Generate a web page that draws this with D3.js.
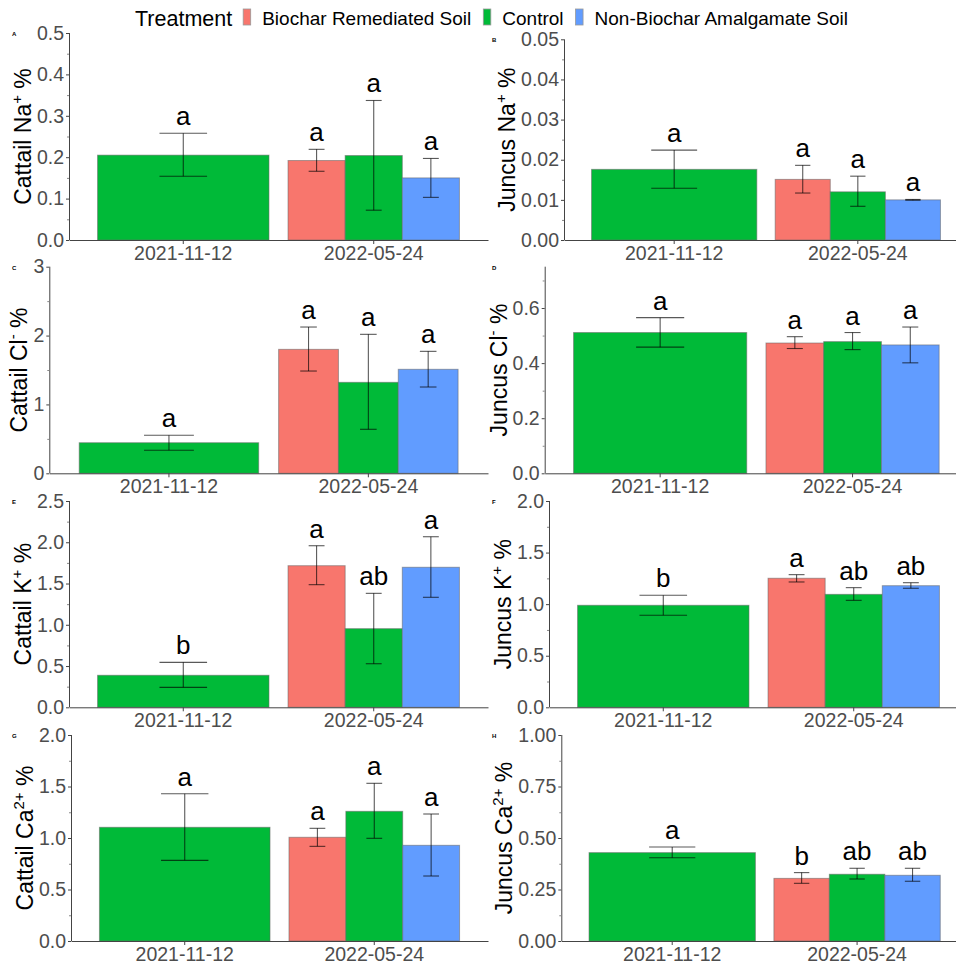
<!DOCTYPE html>
<html>
<head>
<meta charset="utf-8">
<script src="https://cdn.jsdelivr.net/npm/d3@7"></script>
<style>
  body { margin: 0; background: #fff; }
  svg { display: block; font-family: "Liberation Sans", Arial, sans-serif; }
</style>
</head>
<body>
<div id="chart"></div>
<script>
// Categories
const dates = ["2021-11-12", "2022-05-24"];
const treatments = ["Biochar Remediated Soil", "Control", "Non-Biochar Amalgamate Soil"];
const colors = ["#F8766D", "#00BA38", "#619CFF"];

// Bar order in every panel: 2021 Control, 2022 Biochar, 2022 Control, 2022 Non-Biochar
const barDate = [dates[0], dates[1], dates[1], dates[1]];
const barTreatment = [treatments[1], treatments[0], treatments[1], treatments[2]];

// Na+
const cattailNa = [0.205, 0.192, 0.204, 0.150];
const cattailNaLo = [0.154, 0.166, 0.072, 0.103];
const cattailNaHi = [0.258, 0.219, 0.337, 0.197];
const cattailNaLetters = ["a", "a", "a", "a"];
const cattailNaTicks = [0, 0.1, 0.2, 0.3, 0.4, 0.5];

const juncusNa = [0.0176, 0.0151, 0.0120, 0.0100];
const juncusNaLo = [0.0129, 0.0117, 0.0084, 0.0099];
const juncusNaHi = [0.0224, 0.0186, 0.0159, 0.0101];
const juncusNaLetters = ["a", "a", "a", "a"];
const juncusNaTicks = [0, 0.01, 0.02, 0.03, 0.04, 0.05];

// Cl-
const cattailCl = [0.444, 1.80, 1.321, 1.510];
const cattailClLo = [0.334, 1.485, 0.639, 1.253];
const cattailClHi = [0.552, 2.124, 2.018, 1.771];
const cattailClLetters = ["a", "a", "a", "a"];
const cattailClTicks = [0, 1, 2, 3];

const juncusCl = [0.511, 0.473, 0.478, 0.466];
const juncusClLo = [0.458, 0.453, 0.449, 0.401];
const juncusClHi = [0.565, 0.496, 0.511, 0.531];
const juncusClLetters = ["a", "a", "a", "a"];
const juncusClTicks = [0, 0.2, 0.4, 0.6];

// K+
const cattailK = [0.388, 1.716, 0.953, 1.697];
const cattailKLo = [0.242, 1.486, 0.528, 1.333];
const cattailKHi = [0.545, 1.958, 1.381, 2.067];
const cattailKLetters = ["b", "a", "ab", "a"];
const cattailKTicks = [0, 0.5, 1.0, 1.5, 2.0, 2.5];

const juncusK = [0.989, 1.251, 1.095, 1.179];
const juncusKLo = [0.892, 1.215, 1.037, 1.154];
const juncusKHi = [1.086, 1.286, 1.160, 1.208];
const juncusKLetters = ["b", "a", "ab", "ab"];
const juncusKTicks = [0, 0.5, 1.0, 1.5, 2.0];

// Ca2+
const cattailCa = [1.104, 1.007, 1.259, 0.929];
const cattailCaLo = [0.783, 0.919, 0.997, 0.631];
const cattailCaHi = [1.430, 1.094, 1.531, 1.233];
const cattailCaLetters = ["a", "a", "a", "a"];
const cattailCaTicks = [0, 0.5, 1.0, 1.5, 2.0];

const juncusCa = [0.429, 0.304, 0.324, 0.319];
const juncusCaLo = [0.404, 0.280, 0.301, 0.290];
const juncusCaHi = [0.456, 0.332, 0.353, 0.353];
const juncusCaLetters = ["a", "b", "ab", "ab"];
const juncusCaTicks = [0, 0.25, 0.5, 0.75, 1.0];

// panel layout
const panels = [
  {tag: "A", plant: "Cattail", ion: "Na", sup: "+", mean: cattailNa, lo: cattailNaLo, hi: cattailNaHi, letters: cattailNaLetters, ticks: cattailNaTicks, max: 0.5, fmt: ".1f", ax: 69, right: 488, top: 33, bottom: 240},
  {tag: "B", plant: "Juncus", ion: "Na", sup: "+", mean: juncusNa, lo: juncusNaLo, hi: juncusNaHi, letters: juncusNaLetters, ticks: juncusNaTicks, max: 0.05, fmt: ".2f", ax: 564, right: 968, top: 39.3, bottom: 240},
  {tag: "C", plant: "Cattail", ion: "Cl", sup: "-", mean: cattailCl, lo: cattailClLo, hi: cattailClHi, letters: cattailClLetters, ticks: cattailClTicks, max: 3, fmt: "d", ax: 49.3, right: 488, top: 266.7, bottom: 473.3},
  {tag: "D", plant: "Juncus", ion: "Cl", sup: "-", mean: juncusCl, lo: juncusClLo, hi: juncusClHi, letters: juncusClLetters, ticks: juncusClTicks, max: 0.75, fmt: ".1f", ax: 544.7, right: 968, top: 266.7, bottom: 473.3},
  {tag: "E", plant: "Cattail", ion: "K", sup: "+", mean: cattailK, lo: cattailKLo, hi: cattailKHi, letters: cattailKLetters, ticks: cattailKTicks, max: 2.5, fmt: ".1f", ax: 69, right: 488, top: 501, bottom: 707.3},
  {tag: "F", plant: "Juncus", ion: "K", sup: "+", mean: juncusK, lo: juncusKLo, hi: juncusKHi, letters: juncusKLetters, ticks: juncusKTicks, max: 2.0, fmt: ".1f", ax: 549, right: 968, top: 501, bottom: 707.3},
  {tag: "G", plant: "Cattail", ion: "Ca", sup: "2+", mean: cattailCa, lo: cattailCaLo, hi: cattailCaHi, letters: cattailCaLetters, ticks: cattailCaTicks, max: 2.0, fmt: ".1f", ax: 71, right: 488, top: 735, bottom: 941},
  {tag: "H", plant: "Juncus", ion: "Ca", sup: "2+", mean: juncusCa, lo: juncusCaLo, hi: juncusCaHi, letters: juncusCaLetters, ticks: juncusCaTicks, max: 1.0, fmt: ".2f", ax: 561.3, right: 968, top: 735, bottom: 941}
];

const svg = d3.select("#chart").append("svg")
  .attr("width", 956)
  .attr("height", 964);

const color = d3.scaleOrdinal().domain(treatments).range(colors);

panels.forEach(function (p, pi) {
  const g = svg.append("g");

  const x = d3.scaleBand().domain(dates).range([p.ax, p.right])
    .paddingInner(0.1).paddingOuter(0.15);
  const xs = d3.scaleBand().domain(treatments).range([0, x.bandwidth()]);
  const y = d3.scaleLinear().domain([0, p.max]).range([p.bottom, p.top]);

  const rows = p.mean.map(function (m, i) {
    return {date: barDate[i], tr: barTreatment[i], m: m, lo: p.lo[i], hi: p.hi[i], letter: p.letters[i]};
  });
  const bx = d => d.date === dates[0] ? x(d.date) : x(d.date) + xs(d.tr);
  const bw = d => d.date === dates[0] ? x.bandwidth() : xs.bandwidth();
  const cx = d => bx(d) + bw(d) / 2;
  const cap = d => bw(d) * 0.25 / 0.9 / 2;

  // bars
  g.selectAll("rect.bar")
    .data(rows)
    .enter()
    .append("rect")
    .attr("class", "bar")
    .attr("x", bx)
    .attr("width", bw)
    .attr("y", d => y(d.m))
    .attr("height", d => y(0) - y(d.m))
    .attr("fill", d => color(d.tr))
    .attr("stroke", "#666")
    .attr("stroke-opacity", 0.55)
    .attr("stroke-width", 1);

  // error bars
  const eb = g.selectAll("g.err")
    .data(rows)
    .enter()
    .append("g")
    .attr("class", "err")
    .attr("stroke", "#000")
    .attr("stroke-opacity", 0.65)
    .attr("stroke-width", 1.1);
  eb.append("line")
    .attr("x1", cx).attr("x2", cx)
    .attr("y1", d => y(d.lo)).attr("y2", d => y(d.hi));
  eb.append("line")
    .attr("x1", d => cx(d) - cap(d)).attr("x2", d => cx(d) + cap(d))
    .attr("y1", d => y(d.hi)).attr("y2", d => y(d.hi));
  eb.append("line")
    .attr("x1", d => cx(d) - cap(d)).attr("x2", d => cx(d) + cap(d))
    .attr("y1", d => y(d.lo)).attr("y2", d => y(d.lo));

  // significance letters
  g.selectAll("text.letter")
    .data(rows)
    .enter()
    .append("text")
    .attr("class", "letter")
    .attr("x", cx)
    .attr("y", d => y(d.hi) - 8)
    .attr("text-anchor", "middle")
    .attr("font-size", 26)
    .attr("fill", "#000")
    .text(d => d.letter);

  // y axis
  const yAxis = g.append("g")
    .attr("transform", "translate(" + p.ax + ",0)")
    .call(d3.axisLeft(y).tickValues(p.ticks).tickFormat(d3.format(p.fmt))
      .tickSize(3).tickPadding(2).tickSizeOuter(0));
  yAxis.select(".domain").attr("stroke", "#444").attr("d", "M0.5," + p.bottom + "V" + p.top);
  yAxis.selectAll(".tick line").attr("stroke", "#444");
  yAxis.selectAll(".tick text").attr("font-size", 19.5).attr("fill", "#4d4d4d")
    .attr("font-family", "Liberation Sans, Arial, sans-serif");

  // minor ticks
  const step = p.ticks[1] - p.ticks[0];
  const minor = p.ticks.map(t => t + step / 2).filter(t => t < p.max);
  g.append("g")
    .attr("transform", "translate(" + p.ax + ",0)")
    .call(d3.axisLeft(y).tickValues(minor).tickFormat("").tickSize(2).tickSizeOuter(0))
    .call(a => a.select(".domain").remove())
    .selectAll(".tick line").attr("stroke", "#888");

  // x axis
  const xAxis = g.append("g")
    .attr("transform", "translate(0," + p.bottom + ")")
    .call(d3.axisBottom(x).tickSize(4).tickPadding(2).tickSizeOuter(0));
  xAxis.select(".domain").attr("stroke", "#444");
  xAxis.selectAll(".tick line").attr("stroke", "#444");
  xAxis.selectAll(".tick text").attr("font-size", 19.5).attr("fill", "#4d4d4d")
    .attr("font-family", "Liberation Sans, Arial, sans-serif");

  // y title, placed left of the tick labels
  const box = yAxis.node().getBBox();
  const tx = p.ax + box.x - 6;
  const ty = (p.top + p.bottom) / 2;
  const title = g.append("text")
    .attr("transform", "translate(" + tx + "," + ty + ") rotate(-90)")
    .attr("text-anchor", "middle")
    .attr("font-size", 23)
    .attr("fill", "#000");
  title.append("tspan").text(p.plant + " " + p.ion);
  title.append("tspan").attr("dy", -9).attr("font-size", 15).text(p.sup);
  title.append("tspan").attr("dy", 9).text(" %");

  // panel tag
  g.append("text")
    .attr("x", pi % 2 === 0 ? 12 : 492)
    .attr("y", p.top + 3)
    .attr("font-size", 6)
    .attr("font-weight", "bold")
    .attr("fill", "#000")
    .text(p.tag);
});

// legend
const legend = svg.append("g");
const lt = legend.append("text")
  .attr("x", 135).attr("y", 26)
  .attr("font-size", 21.5)
  .attr("fill", "#000")
  .text("Treatment");
let lx = 135 + lt.node().getComputedTextLength() + 11;
treatments.forEach(function (t) {
  legend.append("rect")
    .attr("x", lx).attr("y", 9)
    .attr("width", 7.5).attr("height", 16)
    .attr("fill", color(t))
    .attr("stroke", "#999")
    .attr("stroke-width", 0.8);
  const tt = legend.append("text")
    .attr("x", lx + 19).attr("y", 24.5)
    .attr("font-size", 19)
    .attr("fill", "#000")
    .text(t);
  lx = lx + 19 + tt.node().getComputedTextLength() + 12;
});
</script>
</body>
</html>
